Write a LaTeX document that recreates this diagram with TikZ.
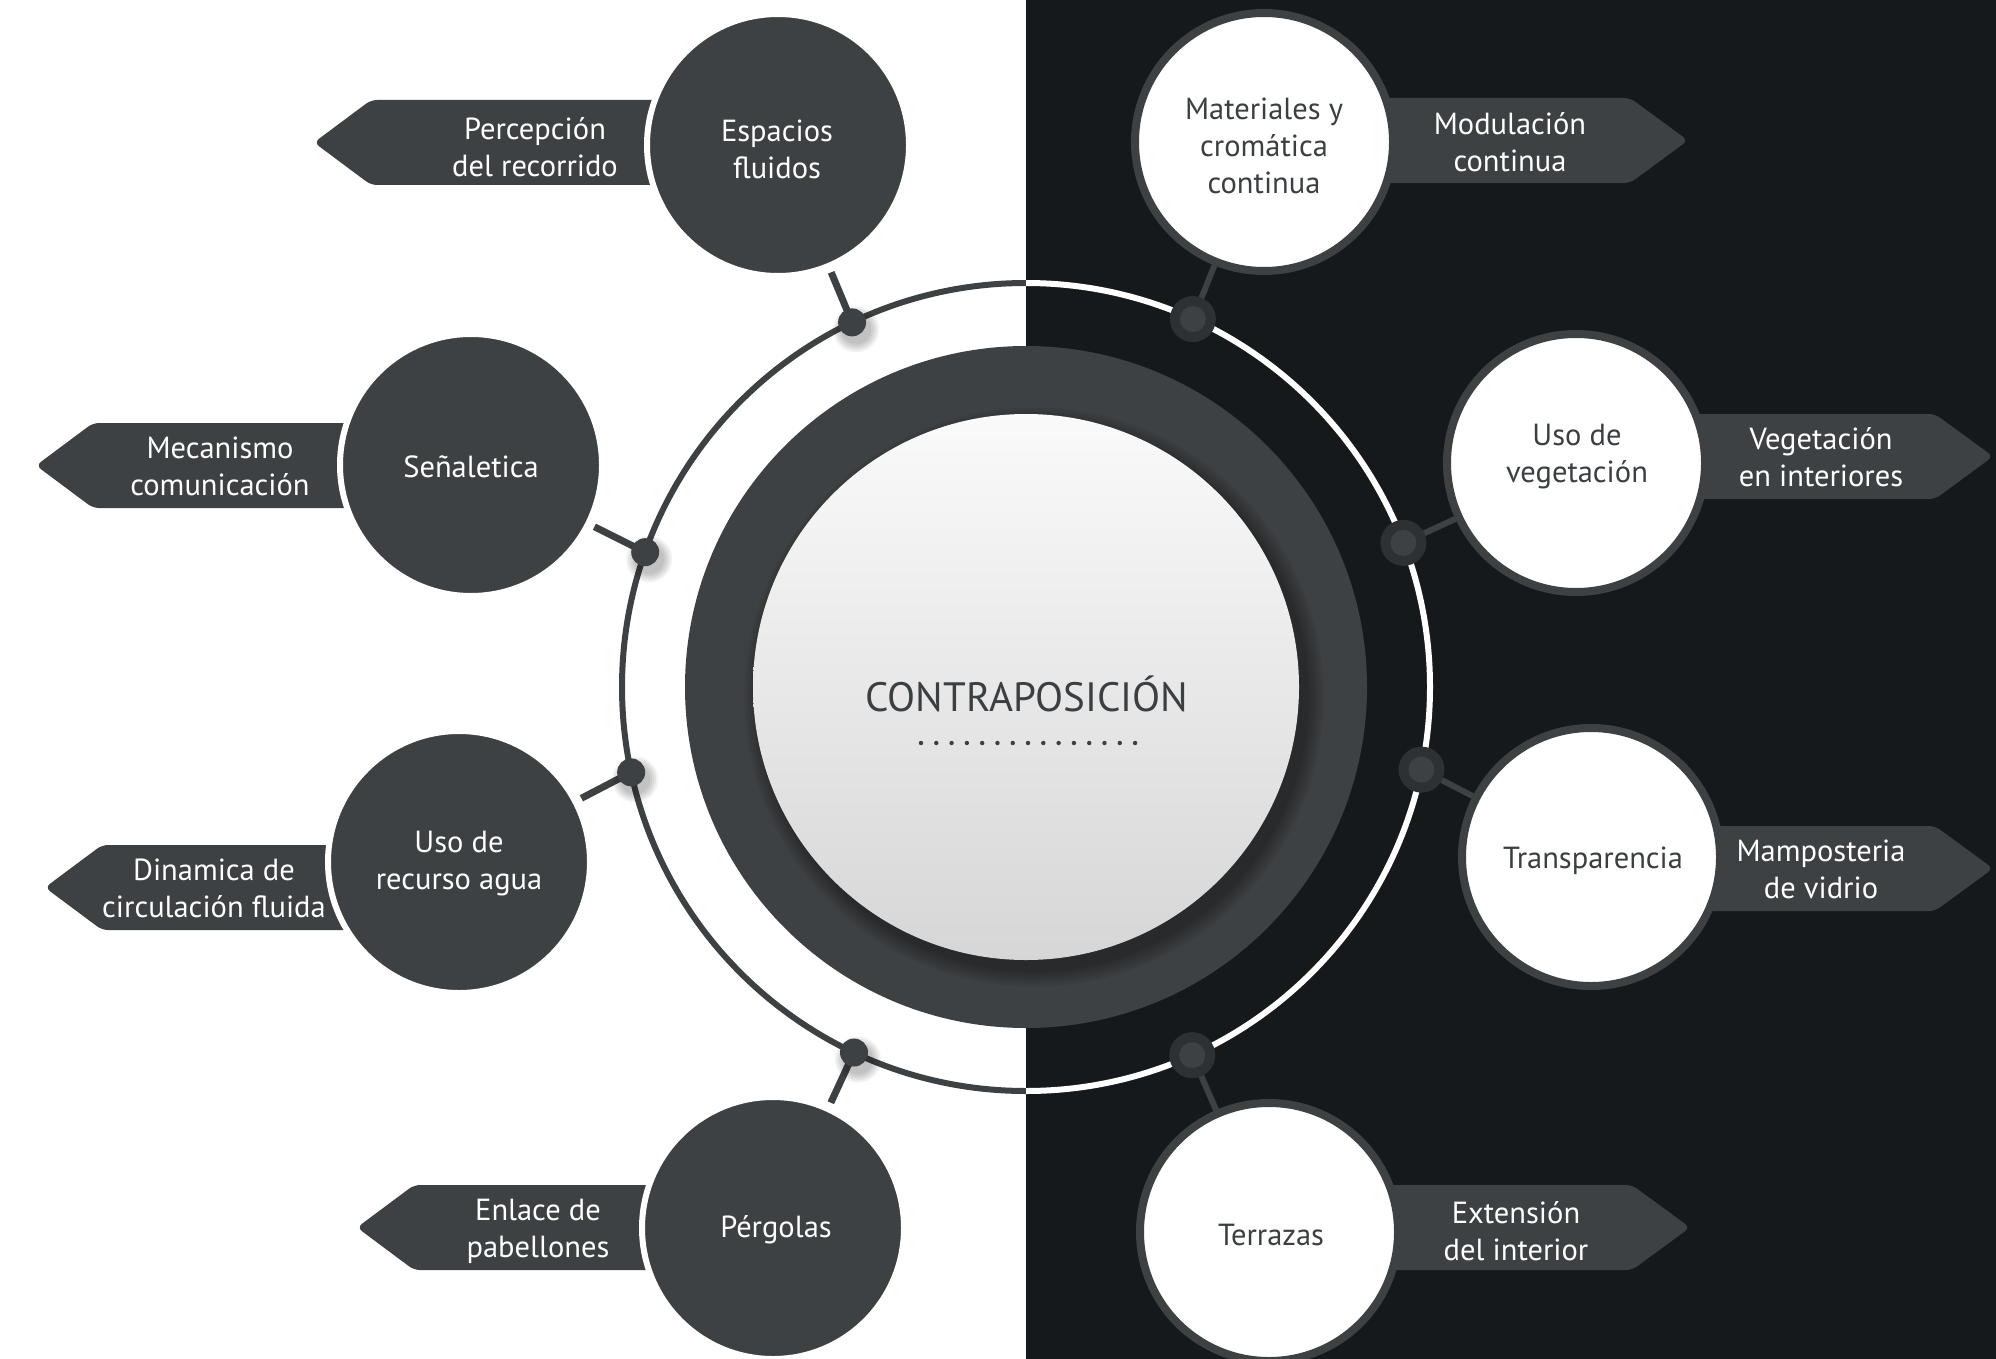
\documentclass[tikz,border=0pt]{standalone}
\usepackage{fontspec}
\setmainfont{PT Sans}
\usetikzlibrary{calc}
\definecolor{dk}{HTML}{3E4143}
\definecolor{bgd}{HTML}{16191C}
\definecolor{halo}{HTML}{2E3134}
\definecolor{txt}{HTML}{3C3F42}
\newcommand\LTab[4]{\fill[dk, rounded corners=6] (#1,#2) -- ({#4+57},#2) -- (#4,{(#2+#3)/2}) -- ({#4+57},#3) -- (#1,#3) -- cycle;}
\newcommand\RTab[4]{\fill[dk, rounded corners=6] (#1,#2) -- ({#4-58},#2) -- (#4,{(#2+#3)/2}) -- ({#4-58},#3) -- (#1,#3) -- cycle;}
\tikzset{
  lab/.style={font=\fontsize{30.5}{37}\selectfont, align=center, inner sep=0},
  lcirc/.style={circle, fill=dk, draw=white, line width=6, minimum size=262, outer sep=7},
  rcirc/.style={circle, fill=white, draw=dk, line width=8, minimum size=258},
  ltext/.style={text=white, lab},
  rtext/.style={text=txt, lab},
  tabtext/.style={text=white, lab},
  lstub/.style={draw=dk, line width=7},
  rstub/.style={draw=dk, line width=6},
}
\begin{document}
\begin{tikzpicture}[x=1pt,y=-1pt]
\useasboundingbox (0,0) rectangle (1996,1359);
\fill[white] (0,0) rectangle (1026,1359);
\fill[bgd] (1026,0) rectangle (1996,1359);
\coordinate (O) at (1026,687);
% thin ring
\begin{scope}\clip (0,0) rectangle (1026,1359); \draw[dk, line width=6] (O) circle[radius=404]; \end{scope}
\begin{scope}\clip (1026,0) rectangle (1996,1359); \draw[white, line width=6] (O) circle[radius=404]; \end{scope}
% thick ring and core
\fill[dk] (O) circle[radius=341];
\foreach \k in {1,...,7} \fill[black, opacity=0.05] ($(O)+(8,10)$) circle[radius={272+\k*2.5}];
\node[circle, minimum size=546, inner sep=0, top color=white!98!black, bottom color=white!84!black] (core) at (O) {};
\node[text=txt, font=\fontsize{41}{48}\selectfont, inner sep=0] (title) at (1027,694) {CONTRAPOSICIÓN};
\foreach \i in {0,...,14} \fill[txt] ({921+\i*15.29},743) circle[radius=2.2];
% tabs
\LTab{778}{100}{185}{314}
\LTab{471}{423}{508}{36}
\LTab{459}{845}{930}{45}
\LTab{773}{1185}{1270}{357}
\RTab{1264}{98}{183}{1688}
\RTab{1576}{414}{499}{1993}
\RTab{1591}{826}{911}{1993}
\RTab{1269}{1185}{1270}{1690}
% circles
\node[lcirc] (c1) at (778,145) {};
\node[lcirc] (c2) at (471,465) {};
\node[lcirc] (c3) at (459,862) {};
\node[lcirc] (c4) at (773,1228) {};
\node[rcirc] (r1) at (1264,142) {};
\node[rcirc] (r2) at (1576,463) {};
\node[rcirc] (r3) at (1591,857) {};
\node[rcirc] (r4) at (1269,1232) {};
% circle texts
\node[ltext] (c1t) at (777,149) {Espacios\\fluidos};
\node[ltext] (c2t) at (471,467) {Señaletica};
\node[ltext] (c3t) at (459,864) {Uso de\\recurso agua};
\node[ltext] (c4t) at (776,1230) {Pérgolas};
\node[rtext] (r1t) at (1264,146) {Materiales y\\cromática\\continua};
\node[rtext] (r2t) at (1577,457) {Uso de\\vegetación};
\node[rtext] (r3t) at (1593,861) {Transparencia};
\node[rtext] (r4t) at (1271,1235) {Terrazas};
% tab texts
\node[tabtext] (p1) at (535,147) {Percepción\\del recorrido};
\node[tabtext] (p2) at (220,466) {Mecanismo\\comunicación};
\node[tabtext] (p3) at (214,888) {Dinamica de\\circulación fluida};
\node[tabtext] (p4) at (538,1231) {Enlace de\\pabellones};
\node[tabtext] (q1) at (1510,142) {Modulación\\continua};
\node[tabtext] (q2) at (1821,457) {Vegetación\\en interiores};
\node[tabtext] (q3) at (1821,869) {Mamposteria\\de vidrio};
\node[tabtext] (q4) at (1516,1231) {Extensión\\del interior};
% dots on ring
\coordinate (d1) at ($(O)+(-115.5:404)$);
\coordinate (d2) at ($(O)+(-160.5:404)$);
\coordinate (d3) at ($(O)+(-192.2:404)$);
\coordinate (d4) at ($(O)+(-244.8:404)$);
\coordinate (e1) at ($(O)+(-65.6:404)$);
\coordinate (e2) at ($(O)+(-20.9:404)$);
\coordinate (e3) at ($(O)+(11.8:404)$);
\coordinate (e4) at ($(O)+(65.7:404)$);
% stubs
\draw[lstub] (d1) -- (c1);
\draw[lstub] (d2) -- (c2);
\draw[lstub] (d3) -- (c3);
\draw[lstub] (d4) -- (c4);
\draw[rstub] (e1) -- (r1);
\draw[rstub] (e2) -- (r2);
\draw[rstub] (e3) -- (r3);
\draw[rstub] (e4) -- (r4);
% dots
\foreach \d in {d1,d2,d3,d4}{
  \foreach \k in {1,...,5} \fill[black, opacity=0.05] ($(\d)+(4,7)$) circle[radius={13+\k*2}];
  \fill[dk] (\d) circle[radius=14];
}
\foreach \d in {e1,e2,e3,e4}{
  \fill[halo] (\d) circle[radius=23];
  \fill[dk] (\d) circle[radius=13];
}
\end{tikzpicture}
\end{document}
